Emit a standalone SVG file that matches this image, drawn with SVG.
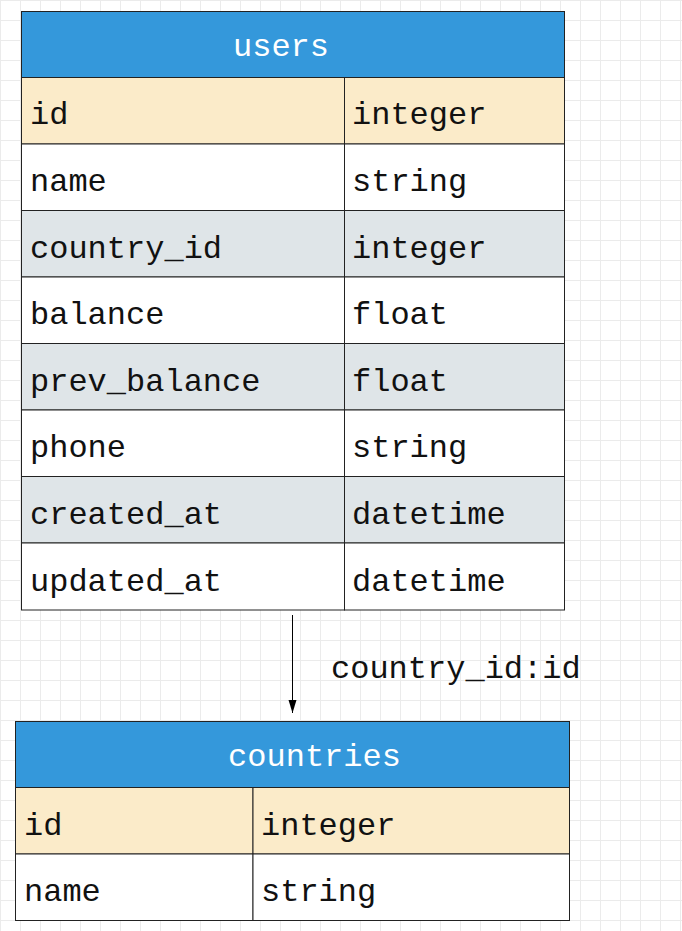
<svg xmlns="http://www.w3.org/2000/svg" width="682" height="931" viewBox="0 0 682 931">
<defs>
<pattern id="grid" width="20" height="20" patternUnits="userSpaceOnUse">
<path d="M0 0.5 H20 M0.5 0 V20" stroke="#ebebeb" stroke-width="1" fill="none"/>
</pattern>
<marker id="arr" markerWidth="14" markerHeight="10" refX="13" refY="5" orient="auto" markerUnits="userSpaceOnUse">
<path d="M0 1 L13 5 L0 9 Z" fill="#000"/>
</marker>
</defs>
<style>
.hd{fill:#3498db;stroke:#222;stroke-width:1}
.key{fill:#fbebc9;stroke:#222;stroke-width:1}
.w{fill:#fff;stroke:#222;stroke-width:1}
.g{fill:#dfe5e8;stroke:#222;stroke-width:1}
text{font-family:"Liberation Mono","DejaVu Sans Mono",monospace;font-size:32px;fill:#111}
.ht{fill:#fff;text-anchor:middle}
</style>
<rect width="682" height="931" fill="#fff"/>
<rect width="682" height="931" fill="url(#grid)"/>
<g id="users">
<rect class="hd" x="21.5" y="11.5" width="543" height="66"/>
<text class="ht" x="281" y="56">users</text>
<rect class="key" x="21.5" y="77.5" width="323" height="66.5"/><rect class="key" x="344.5" y="77.5" width="220" height="66.5"/>
<rect class="w" x="21.5" y="144" width="323" height="66.5"/><rect class="w" x="344.5" y="144" width="220" height="66.5"/>
<rect class="g" x="21.5" y="210.5" width="323" height="66.5"/><rect class="g" x="344.5" y="210.5" width="220" height="66.5"/>
<rect class="w" x="21.5" y="277" width="323" height="66.5"/><rect class="w" x="344.5" y="277" width="220" height="66.5"/>
<rect class="g" x="21.5" y="343.5" width="323" height="66.5"/><rect class="g" x="344.5" y="343.5" width="220" height="66.5"/>
<rect class="w" x="21.5" y="410" width="323" height="66.5"/><rect class="w" x="344.5" y="410" width="220" height="66.5"/>
<rect class="g" x="21.5" y="476.5" width="323" height="66.5"/><rect class="g" x="344.5" y="476.5" width="220" height="66.5"/>
<rect class="w" x="21.5" y="543" width="323" height="67"/><rect class="w" x="344.5" y="543" width="220" height="67"/>
<text x="30" y="124">id</text><text x="352" y="124">integer</text>
<text x="30" y="191">name</text><text x="352" y="191">string</text>
<text x="30" y="257.5">country_id</text><text x="352" y="257.5">integer</text>
<text x="30" y="324">balance</text><text x="352" y="324">float</text>
<text x="30" y="391">prev_balance</text><text x="352" y="391">float</text>
<text x="30" y="457">phone</text><text x="352" y="457">string</text>
<text x="30" y="524">created_at</text><text x="352" y="524">datetime</text>
<text x="30" y="590.5">updated_at</text><text x="352" y="590.5">datetime</text>
</g>
<g id="connectors">
<line x1="292.5" y1="615" x2="292.5" y2="713" stroke="#000" stroke-width="1" marker-end="url(#arr)"/>
<text x="331" y="678">country_id:id</text>
</g>
<g id="countries">
<rect class="hd" x="15.5" y="721.5" width="554" height="66"/>
<text class="ht" x="314.5" y="766">countries</text>
<rect class="key" x="15.5" y="787.5" width="237.5" height="66.5"/><rect class="key" x="253" y="787.5" width="316.5" height="66.5"/>
<rect class="w" x="15.5" y="854" width="237.5" height="66.5"/><rect class="w" x="253" y="854" width="316.5" height="66.5"/>
<text x="24" y="834.5">id</text><text x="261" y="834.5">integer</text>
<text x="24" y="901">name</text><text x="261" y="901">string</text>
</g>
</svg>
